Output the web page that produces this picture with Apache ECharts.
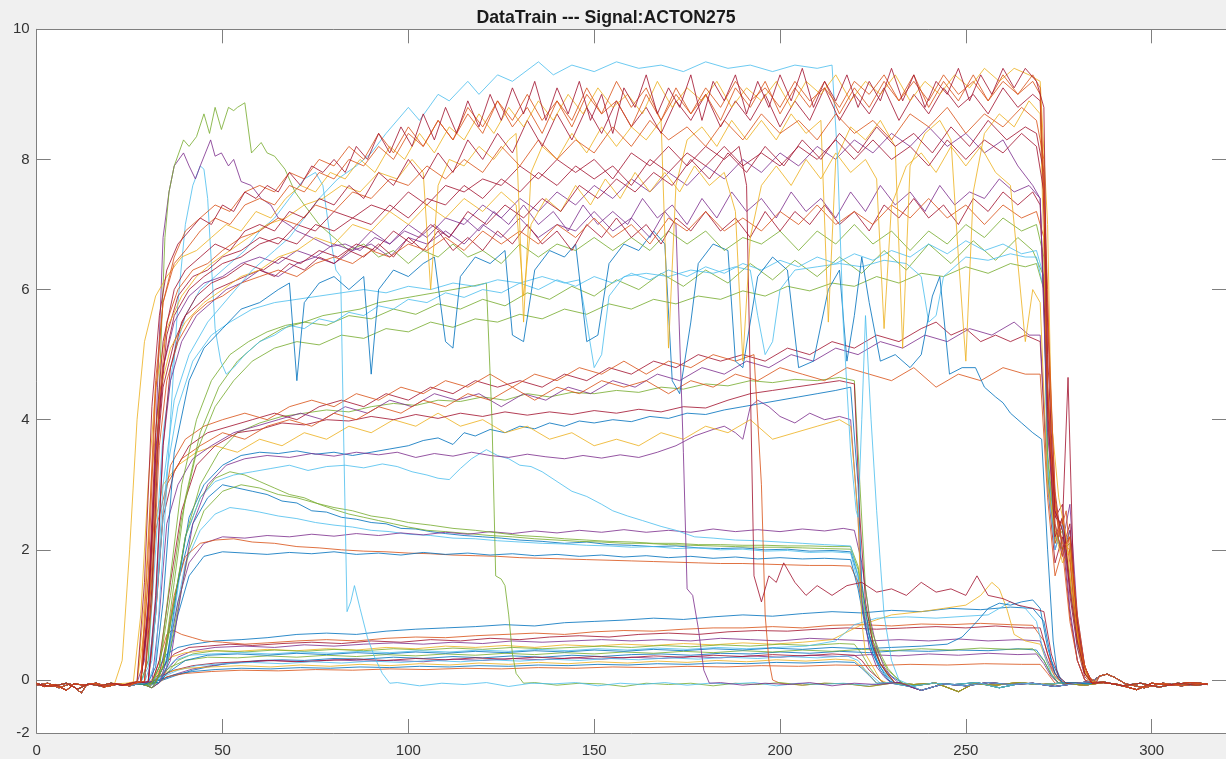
<!DOCTYPE html>
<html><head><meta charset="utf-8">
<script src="https://cdn.jsdelivr.net/npm/echarts@6/dist/echarts.min.js"></script>
<style>html,body{margin:0;padding:0;background:#f0f0f0;}#c{width:1226px;height:759px;}</style>
</head><body><div id="c"></div>
<script>
// ---------- texts & ticks ----------
const titleText = 'DataTrain --- Signal:ACTON275';
const xTicks = [0, 50, 100, 150, 200, 250, 300];
const yTicks = [0, 2, 4, 6, 8, 10];
const yBottomLabel = '-2';
const xMin = 0, xMax = 320, yMin = -0.815, yMax = 10;

// ---------- MATLAB colour order ----------
const COL = {B:'#0072BD', O:'#D95319', Y:'#EDB120', P:'#7E2F8E', G:'#77AC30', C:'#4DBEEE', R:'#A2142F'};

// ---------- shared baseline segments ----------
const baseEarly = [
 [[0,-.06],[4,-.1],[8,-.05],[11,-.14],[14,-.06],[17,-.09],[20,-.05],[23,-.08],[26,-.05],[29,-.07],[32,-.04],[35,-.06]],
 [[0,-.08],[3,-.05],[6,-.12],[9,-.06],[12,-.2],[13.5,-.07],[16,-.05],[19,-.1],[22,-.06],[25,-.09],[28,-.05],[31,-.12],[33,-.06]],
 [[0,-.05],[2,-.1],[5,-.07],[8,-.16],[10,-.06],[13,-.08],[16,-.05],[18,-.11],[21,-.06],[24,-.08],[27,-.05],[30,-.09],[34,-.05]]
];
const baseLate = [
 [[85,-.05],[91,-.08],[97,-.04],[103,-.09],[109,-.05],[115,-.07],[121,-.04],[127,-.1],[133,-.05],[139,-.06],[145,-.04],[151,-.09],[157,-.05],[163,-.07],[169,-.04],[175,-.08],[181,-.05],[187,-.06],[193,-.04],[199,-.09],[205,-.05],[211,-.07],[217,-.05],[223,-.08],[229,-.04],[235,-.1],[241,-.05],[247,-.07],[253,-.04],[259,-.12],[265,-.05],[271,-.07],[277,-.04],[283,-.06],[287,-.03],[292,-.09],[297,-.05],[302,-.11],[307,-.05],[312,-.08],[315,-.06]],
 [[88,-.07],[94,-.04],[100,-.1],[106,-.05],[112,-.08],[118,-.05],[124,-.06],[130,-.11],[136,-.05],[142,-.08],[148,-.04],[154,-.07],[160,-.05],[166,-.12],[172,-.05],[178,-.07],[184,-.04],[190,-.08],[196,-.05],[202,-.07],[208,-.04],[214,-.09],[220,-.05],[226,-.07],[232,-.04],[238,-.16],[244,-.06],[250,-.09],[256,-.04],[262,-.07],[268,-.05],[274,-.1],[280,-.05],[284,-.02],[286,.06],[288,.09],[290,.04],[293,-.06],[298,-.12],[303,-.05],[308,-.09],[313,-.05],[315,-.07]],
 [[86,-.06],[92,-.09],[98,-.05],[104,-.07],[110,-.04],[116,-.1],[122,-.05],[128,-.07],[134,-.04],[140,-.08],[146,-.05],[152,-.06],[158,-.1],[164,-.05],[170,-.07],[176,-.05],[182,-.09],[188,-.05],[194,-.07],[200,-.04],[206,-.08],[212,-.05],[218,-.06],[224,-.1],[230,-.05],[236,-.07],[242,-.05],[248,-.18],[252,-.06],[258,-.08],[264,-.04],[270,-.07],[276,-.05],[282,-.08],[287,-.04],[291,-.07],[296,-.15],[300,-.05],[305,-.08],[310,-.04],[315,-.06]]
];

// ---------- individual signals: flat x,y lists ----------
// low lines
const lo1 = [31,-.03,33,.2,35,.4,38,.5,42,.55,48,.6,55,.62,62,.65,70,.7,78,.72,86,.7,94,.75,102,.78,110,.8,118,.82,126,.85,134,.83,142,.88,150,.9,158,.92,166,.95,174,.93,182,.97,190,1.0,198,.98,206,1.02,214,1.05,222,1.03,230,1.07,238,1.05,246,1.1,254,1.08,262,1.12,268,1.1,271,.9,273,.3,275,.05,277,-.05];
const lo2 = [31,-.04,33,.3,35,.7,36.5,.77,39,.7,42,.65,45,.6,50,.58,56,.55,62,.57,70,.6,78,.62,86,.6,94,.64,102,.66,110,.65,118,.68,126,.7,134,.72,142,.7,150,.74,158,.76,166,.75,174,.78,182,.8,190,.8,198,.82,206,.8,214,.84,222,.85,230,.83,238,.86,246,.85,254,.87,262,.85,268,.84,271,.6,273,.2,275,0,277,-.05];
const lo3 = [32,-.04,34,.2,37,.4,41,.5,46,.52,52,.55,58,.53,66,.56,74,.58,82,.56,90,.6,98,.58,106,.62,114,.6,122,.64,130,.62,138,.66,146,.68,154,.66,162,.7,170,.72,178,.7,186,.74,194,.76,202,.75,210,.78,218,.8,226,.78,234,.8,242,.82,250,.8,258,.83,266,.8,270,.8,272,.4,274,.1,276,-.05];
const lo4 = [33,-.04,35,.15,38,.35,42,.45,48,.5,56,.52,64,.5,72,.54,80,.52,88,.55,96,.57,104,.55,112,.58,120,.56,128,.6,136,.58,144,.6,152,.62,160,.6,168,.62,176,.6,184,.64,192,.62,200,.6,208,.64,216,.62,224,.6,232,.62,240,.6,248,.63,256,.6,264,.62,270,.6,272,.3,274,.05,276,-.05];
const lo5 = [31,-.04,33,.15,36,.35,40,.42,46,.45,54,.44,62,.47,70,.45,78,.48,86,.46,94,.5,102,.48,110,.52,118,.5,126,.53,134,.5,142,.54,150,.52,158,.55,166,.53,174,.56,182,.54,190,.57,198,.55,206,.58,214,.62,222,.85,230,1.0,238,1.05,244,1.1,250,1.15,254,1.3,257,1.5,259,1.4,261,1.1,263,.7,266,.6,270,.55,272,.25,274,.05,276,-.05];
const lo6 = [33,-.04,35,.1,38,.3,42,.4,48,.45,56,.43,64,.46,72,.44,80,.47,88,.45,96,.48,104,.46,112,.49,120,.47,128,.5,136,.48,144,.5,152,.52,160,.5,168,.53,176,.51,184,.54,192,.52,200,.55,208,.53,216,.56,220,.55,222,.4,224,.2,226,.05,228,-.05];
const lo7 = [32,-.04,34,.1,37,.3,41,.38,47,.4,55,.42,63,.4,71,.43,79,.41,87,.44,95,.42,103,.45,111,.43,119,.46,127,.44,135,.47,143,.45,151,.48,159,.46,167,.49,175,.47,183,.5,191,.48,199,.5,207,.52,215,.6,220,.85,226,.95,234,.97,242,.95,250,.98,256,1.0,262,1.2,266,1.1,269,.9,271,.4,273,.1,275,-.05];
const lo8 = [30,-.03,34,0,38,.08,42,.15,46,.2,50,.24,55,.27,60,.3,66,.31,72,.3,80,.33,88,.32,96,.35,104,.33,112,.36,120,.34,128,.37,136,.35,144,.38,152,.36,160,.39,168,.4,176,.38,184,.41,192,.4,200,.43,208,.41,216,.44,224,.42,232,.45,240,.44,248,.46,256,.45,264,.48,269,.46,271,.3,273,.08,275,-.05];
const lo9 = [30,-.03,34,.02,38,.1,42,.17,47,.22,52,.26,58,.28,64,.3,72,.28,80,.31,88,.29,96,.3,104,.28,112,.32,120,.3,128,.33,136,.31,144,.34,152,.32,160,.35,168,.33,176,.36,184,.34,192,.37,200,.35,208,.38,216,.36,224,.39,232,.37,240,.4,248,.38,256,.41,264,.39,269,.4,271,.25,273,.05,275,-.05];
const lo10 = [31,-.04,33,.05,37,.15,42,.22,48,.26,55,.28,62,.3,70,.28,78,.3,86,.32,94,.3,102,.33,110,.31,118,.34,126,.32,134,.35,142,.33,150,.36,158,.34,166,.37,174,.35,182,.38,190,.36,198,.39,206,.37,214,.4,220,.38,222,.3,224,.15,226,.05,228,-.05];
const lo11 = [32,-.04,34,.05,38,.15,43,.22,50,.25,58,.27,66,.25,74,.28,82,.26,90,.29,98,.27,106,.3,114,.28,122,.31,130,.29,138,.32,146,.3,154,.33,162,.31,170,.34,178,.32,186,.35,194,.33,202,.36,210,.34,218,.37,221,.3,223,.15,225,.05,227,-.05];
const lo12 = [30,-.04,32,.05,35,.12,40,.18,47,.2,55,.22,63,.2,71,.23,79,.21,87,.24,95,.22,103,.25,111,.23,119,.26,127,.24,135,.27,143,.25,151,.28,159,.26,167,.29,175,.27,183,.3,191,.28,199,.31,207,.29,215,.32,220,.3,222,.2,224,.08,226,-.05];
const lo13 = [31,-.04,33,.05,36,.2,40,.3,46,.35,54,.34,62,.37,70,.35,78,.38,86,.36,94,.39,102,.37,110,.4,118,.38,126,.41,134,.39,142,.42,150,.4,158,.43,166,.41,174,.44,182,.42,190,.45,198,.43,206,.46,214,.44,222,.47,230,.45,238,.48,246,.46,254,.49,262,.47,268,.48,271,.3,273,.08,275,-.05];
const lo14 = [31,-.05,33,0,37,.08,42,.13,48,.16,55,.18,63,.17,71,.19,79,.18,87,.2,95,.19,103,.21,111,.2,119,.22,127,.21,135,.23,143,.22,151,.24,159,.23,167,.25,175,.24,183,.26,191,.25,199,.27,207,.26,215,.28,220,.27,222,.18,224,.07,226,-.05];
const lo15 = [33,-.04,35,.05,40,.1,47,.13,55,.15,65,.14,75,.16,85,.15,95,.17,105,.16,115,.18,125,.17,135,.19,145,.18,155,.2,165,.19,175,.21,185,.2,195,.22,205,.21,215,.23,225,.22,235,.24,245,.23,255,.25,265,.24,270,.24,272,.1,274,-.05];
const lo16 = [33,-.04,35,.1,40,.3,46,.38,54,.4,62,.38,70,.41,78,.39,86,.42,94,.4,102,.43,110,.41,118,.44,126,.42,134,.45,142,.43,150,.46,158,.44,166,.47,174,.45,182,.48,190,.46,198,.49,206,.47,214,.5,222,.48,230,.5,238,.52,245,.55,249,.66,253,.9,256,1.1,259,1.18,262,1.15,265,1.2,268,1.23,270,1.1,272,.5,274,.1,276,-.05];

// ~2 bundle
const b2a = [31,-.04,33,.1,35,.6,38,1.5,42,2.4,46,2.8,50,3.0,54,2.95,58,2.9,62,2.85,66,2.75,70,2.72,74,2.6,78,2.58,82,2.5,86,2.47,90,2.42,94,2.4,98,2.33,102,2.32,106,2.28,110,2.25,115,2.22,120,2.2,125,2.18,130,2.15,136,2.13,142,2.1,148,2.12,154,2.08,160,2.07,166,2.05,172,2.06,178,2.03,184,2.02,190,2.03,196,2.0,202,2.01,208,1.98,214,1.99,219,1.97,221,1.6,223,.9,225,.5,227,.25,229,.1,231,.02,233,-.05];
const g2 = [32,-.04,34,.2,37,1.2,40,2.2,44,2.8,48,3.1,52,3.2,56,3.15,60,3.05,64,2.95,68,2.85,72,2.8,76,2.7,80,2.62,84,2.55,88,2.5,92,2.45,96,2.4,100,2.35,105,2.3,110,2.28,116,2.25,122,2.22,128,2.2,134,2.17,140,2.15,146,2.13,152,2.12,158,2.1,164,2.1,170,2.08,176,2.07,182,2.06,188,2.05,194,2.04,200,2.04,206,2.03,212,2.02,219,2.01,221,1.7,223,1.0,225,.6,227,.35,229,.15,231,.05,233,-.05];
const c2 = [32,-.04,34,.1,37,.9,40,1.8,44,2.3,48,2.55,52,2.65,56,2.62,60,2.58,65,2.52,70,2.48,75,2.42,80,2.38,85,2.35,90,2.3,95,2.28,100,2.24,106,2.22,112,2.18,118,2.17,124,2.14,130,2.12,136,2.1,142,2.09,148,2.07,154,2.06,160,2.04,166,2.05,172,2.02,178,2.03,184,2.0,190,2.01,196,1.98,202,1.99,208,1.96,214,1.97,219,1.95,221,1.5,223,.8,225,.4,227,.2,229,.05,231,-.05];
const p2 = [33,-.04,35,.3,38,1.2,41,1.8,45,2.1,50,2.2,56,2.18,62,2.22,68,2.2,74,2.24,80,2.21,86,2.25,92,2.22,98,2.26,104,2.23,110,2.27,116,2.24,122,2.28,128,2.25,134,2.29,140,2.26,146,2.3,152,2.27,158,2.31,164,2.27,170,2.3,176,2.27,182,2.32,188,2.28,194,2.31,200,2.28,206,2.32,212,2.29,217,2.33,220,2.3,222,1.8,224,1.0,226,.5,228,.2,230,.05,232,-.05];
const o2 = [32,-.04,34,.3,37,1.3,40,1.9,44,2.1,48,2.15,53,2.17,58,2.12,64,2.1,70,2.05,76,2.03,82,2.0,88,1.98,94,1.97,100,1.95,106,1.94,112,1.92,118,1.91,124,1.9,130,1.88,136,1.87,142,1.86,148,1.85,154,1.84,160,1.83,166,1.82,172,1.81,178,1.8,184,1.79,190,1.79,196,1.78,202,1.77,208,1.76,214,1.76,219,1.75,221,1.5,223,.9,225,.5,227,.25,229,.1,231,-.05];
const b2b = [33,-.04,35,.2,38,1.0,41,1.6,45,1.9,50,1.97,56,1.95,62,1.93,68,1.96,74,1.94,80,1.97,86,1.93,92,1.95,98,1.92,104,1.96,110,1.93,116,1.95,122,1.92,128,1.94,134,1.91,140,1.93,146,1.9,152,1.92,158,1.89,164,1.91,170,1.88,176,1.9,182,1.87,188,1.89,194,1.86,200,1.88,206,1.86,212,1.87,219,1.85,221,1.4,223,.8,225,.4,227,.15,229,0,231,-.05];
const g3 = [33,-.04,35,.2,38,1.1,41,2.0,45,2.6,50,2.9,55,3.0,60,2.95,65,2.85,70,2.8,75,2.72,80,2.65,85,2.6,90,2.52,95,2.48,100,2.42,106,2.38,112,2.33,118,2.3,124,2.26,130,2.22,136,2.2,142,2.17,148,2.15,154,2.13,160,2.12,166,2.1,172,2.1,178,2.08,184,2.08,190,2.07,196,2.07,202,2.06,208,2.06,214,2.05,219,2.05,221,1.75,223,1.1,225,.7,227,.4,229,.18,231,.05,233,-.05];
const cDec = [33,-.04,35,.2,37,1.0,40,2.2,44,2.8,48,3.05,53,3.15,58,3.2,63,3.25,68,3.3,73,3.22,78,3.28,83,3.3,88,3.26,93,3.32,97,3.28,101,3.2,105,3.15,108,3.1,111,3.08,114,3.25,117,3.4,121,3.54,124,3.45,127,3.4,130,3.3,133,3.28,136,3.2,140,3.05,144,2.9,148,2.82,152,2.7,155,2.6,159,2.52,163,2.45,168,2.36,172,2.3,177,2.2,182,2.18,188,2.15,194,2.14,200,2.12,206,2.1,212,2.08,219,2.06,221,1.6,223,.9,225,.45,227,.2,229,.05,231,-.05];

// 3.5 - 5.5 band
const b35 = [32,-.04,35,.3,38,1.5,41,2.5,45,3.0,50,3.3,55,3.45,60,3.5,65,3.48,70,3.52,75,3.47,80,3.5,85,3.45,90,3.5,95,3.55,100,3.6,104,3.68,108,3.72,112,3.62,115,3.8,118,3.75,122,3.85,126,3.8,130,3.9,134,3.86,138,3.95,142,3.9,146,3.98,150,3.95,155,4.0,160,3.97,165,4.05,170,4.02,175,4.1,180,4.08,185,4.15,190,4.2,195,4.25,200,4.3,205,4.35,210,4.4,215,4.45,219,4.5,221,3.0,222,1.5,224,.7,226,.3,228,.1,230,-.05];
const p35 = [33,-.04,36,.3,39,1.4,42,2.4,46,3.0,51,3.3,56,3.4,62,3.45,68,3.42,74,3.48,80,3.44,86,3.5,92,3.46,97,3.5,102,3.42,107,3.48,112,3.44,117,3.5,122,3.45,127,3.42,132,3.47,137,3.43,142,3.4,147,3.45,152,3.41,157,3.46,162,3.42,167,3.5,172,3.6,177,3.75,182,3.85,185,3.9,188,3.8,190,3.7,192,4.2,194,4.3,197,4.2,200,4.05,204,3.95,208,4.1,212,4.0,216,4.05,219,4.0,221,2.5,222,1.2,224,.5,226,.2,228,.05,230,-.05];
const y3 = [25,-.05,27,-.03,29,.8,31,2.2,34,3.0,38,3.3,43,3.5,48,3.6,54,3.5,60,3.7,66,3.6,72,3.8,78,3.7,84,3.9,90,3.8,96,4.0,102,3.9,108,4.1,114,3.9,120,4.0,126,3.8,132,3.9,138,3.7,144,3.8,150,3.6,156,3.7,162,3.6,168,3.8,174,3.7,180,3.9,186,3.8,192,4.0,198,3.7,204,3.8,210,3.9,216,4.0,219,3.9,221,2.5,222,.9,223,.4,225,.2,227,0,229,-.05];
const g5 = [32,-.04,34,.2,37,1.2,40,2.2,44,3.0,49,3.5,54,3.8,60,3.95,66,4.05,72,4.1,78,4.15,84,4.12,90,4.2,96,4.25,102,4.22,108,4.3,114,4.28,120,4.35,126,4.3,132,4.4,138,4.35,144,4.42,150,4.4,156,4.45,162,4.42,168,4.5,174,4.47,180,4.55,186,4.52,192,4.6,198,4.57,204,4.62,210,4.6,216,4.65,220,4.6,221.5,3.0,223,1.4,225,.6,227,.25,229,.08,231,-.05];
const r4 = [31,-.04,33,.3,36,1.5,39,2.6,43,3.3,48,3.6,54,3.8,60,3.85,66,3.95,72,3.92,78,4.0,84,3.98,90,4.05,96,4.0,102,4.08,108,4.02,114,4.1,120,4.05,126,4.12,132,4.07,138,4.12,144,4.08,150,4.14,156,4.1,162,4.16,168,4.12,174,4.2,180,4.18,186,4.3,192,4.4,198,4.45,204,4.5,210,4.55,216,4.6,220,4.55,221.5,2.5,223,1.2,225,.55,227,.25,229,.08,231,-.05];
const r5a = [28,-.04,30,-.03,32,1.0,34,2.5,37,3.2,41,3.6,46,3.8,52,3.9,58,4.0,64,4.1,70,4.0,76,4.2,82,4.3,88,4.2,94,4.4,100,4.3,106,4.5,112,4.4,118,4.6,124,4.5,130,4.6,136,4.5,142,4.7,148,4.6,154,4.8,160,4.7,166,4.9,172,4.8,178,5.0,184,4.9,190,5.0,196,4.9,202,5.1,208,5.0,214,5.2,220,5.1,226,5.3,232,5.2,238,5.4,242,5.5,246,5.3,250,5.4,254,5.2,258,5.3,262,5.2,266,5.3,270,5.2,272,3.0,274,1.8,276,2.2,278,1.0,280,.3,282,0,284,-.05];
const p5b = [29,-.04,31,-.03,33,1.0,35,2.4,38,3.0,42,3.4,47,3.6,53,3.8,59,3.9,65,4.0,71,4.1,77,4.0,83,4.2,89,4.1,95,4.3,101,4.2,107,4.4,113,4.3,119,4.4,125,4.2,131,4.4,137,4.3,143,4.5,149,4.4,155,4.6,161,4.5,167,4.7,173,4.6,179,4.8,185,4.7,191,4.9,197,4.8,203,5.0,209,4.9,215,5.1,221,5.0,227,5.2,233,5.1,239,5.3,245,5.2,251,5.4,257,5.3,263,5.5,267,5.3,270,5.3,272,3.2,274,2.0,276,2.4,278,1.1,280,.3,282,0,284,-.05];
const o47 = [26,-.05,28,-.03,30,.9,32,2.3,35,3.0,39,3.4,44,3.6,50,3.8,56,3.7,62,3.9,68,4.0,74,3.9,80,4.1,86,4.0,92,4.2,98,4.1,104,4.3,110,4.2,116,4.4,122,4.3,128,4.5,134,4.3,140,4.5,146,4.4,152,4.6,158,4.5,164,4.6,170,4.4,176,4.6,182,4.5,188,4.7,194,4.6,200,4.8,206,4.7,212,4.6,218,4.8,224,4.7,230,4.6,236,4.8,242,4.5,248,4.7,254,4.6,260,4.8,266,4.7,270,4.7,272,2.8,274,1.6,276,2.0,278,.9,280,.3,282,0,284,-.05];
const d197 = [29,-.04,30,-.03,32,1.0,34,2.6,36,3.3,40,3.7,45,3.9,50,4.0,56,4.1,62,4.0,68,4.2,74,4.3,80,4.2,86,4.4,92,4.3,98,4.5,104,4.4,110,4.6,116,4.5,122,4.7,128,4.5,134,4.7,140,4.6,146,4.8,152,4.7,158,4.9,164,4.7,170,4.9,176,4.8,182,5.0,188,4.9,193,5.0,195,3.0,196,1.0,197,.3,198,0,200,-.05];

// 5 - 7 band
const g4 = [31,-.04,33,.2,36,1.3,39,2.5,43,3.5,48,4.2,53,4.6,58,4.9,64,5.1,70,5.2,76,5.15,82,5.3,88,5.25,94,5.4,100,5.35,106,5.5,112,5.42,118,5.55,124,5.5,130,5.62,136,5.55,142,5.7,148,5.62,154,5.78,160,5.7,166,5.85,172,5.78,178,5.9,184,5.85,190,5.98,196,5.9,202,6.05,208,5.98,214,6.1,220,6.05,226,6.2,232,6.1,238,6.25,244,6.2,250,6.35,256,6.25,262,6.4,266,6.35,269,6.4,271,6.0,272,3.4,274,2.2,276,2.0,278,2.1,280,.7,282,.1,284,-.05];
const g6 = [32,-.04,34,.2,37,1.5,40,2.8,44,3.8,49,4.5,54,4.9,60,5.2,66,5.4,72,5.5,78,5.45,84,5.6,90,5.55,96,5.7,102,5.62,108,5.78,114,5.7,120,5.85,126,5.75,132,5.95,138,5.85,144,6.05,150,5.9,156,6.15,162,6.0,168,6.25,174,6.05,180,6.3,186,6.1,192,6.4,198,6.15,204,6.45,210,6.2,216,6.5,222,6.25,228,6.6,234,6.3,240,6.7,246,6.4,252,6.75,258,6.45,264,6.8,268,6.6,271,6.2,272,3.2,274,2.1,276,2.3,278,1.6,280,.6,282,.1,284,-.05];
const gDrop = [31,-.04,33,.2,36,1.6,39,3.0,43,4.0,47,4.6,52,5.0,57,5.2,62,5.35,67,5.45,72,5.5,77,5.6,82,5.65,87,5.7,92,5.8,97,5.85,102,5.9,107,5.95,112,6.0,117,6.05,121,6.1,122.5,4.0,123.5,1.6,125,1.55,126,1.45,127,1.0,128,.4,129,.1,131,-.05];
const cDrop = [28,-.04,30,.3,32,2.0,34,3.8,37,5.0,40,5.6,44,6.0,48,6.2,52,6.4,56,6.6,60,6.9,64,7.1,68,7.4,72,7.7,75,7.8,77,7.6,79,6.8,80.5,6.3,81.8,6.2,82.5,4.0,83.5,1.05,84.5,1.2,85.5,1.45,87,1.1,89,.65,91,.34,93,.1,95,-.05];
const cPeak = [30,-.04,32,.3,34,2.0,36,4.0,38,5.8,40,7.0,42,7.6,44,7.9,45,7.85,46,7.4,47,6.4,48,5.4,49.5,4.9,51,4.7,53,4.8,56,5.0,60,5.2,64,5.3,68,5.45,72,5.4,76,5.55,80,5.5,84,5.65,88,5.6,92,5.75,96,5.7,100,5.85,105,5.8,110,5.95,115,5.88,120,6.0,125,5.95,130,6.1,135,6.0,140,6.15,145,6.05,150,6.2,155,6.1,160,6.25,165,6.15,170,6.3,175,6.2,180,6.35,185,6.25,190,6.4,195,6.3,200,6.45,205,6.35,210,6.5,215,6.4,220,6.55,225,6.45,230,6.6,235,6.5,240,6.7,245,6.55,250,6.75,255,6.6,260,6.7,265,6.55,269,6.6,271,6.2,272,3.3,274,2.2,276,2.0,278,2.3,280,.8,282,.15,284,-.05];
const cDip = [29,-.04,31,.3,33,1.8,35,3.2,38,4.2,42,4.9,47,5.3,52,5.5,58,5.7,64,5.8,70,5.85,76,5.9,82,5.95,88,6.0,94,5.95,100,6.05,106,6.0,112,6.1,118,6.05,124,6.15,130,6.1,136,6.2,142,6.1,146,6.15,148,5.5,150,4.8,152,5.0,154,5.9,158,6.2,164,6.25,170,6.2,176,6.3,182,6.25,188,6.35,192,6.3,194,5.6,196,5.0,198,5.2,200,6.0,204,6.3,210,6.35,216,6.4,222,6.35,228,6.45,234,6.4,238,6.2,240,5.5,242,5.6,244,6.2,250,6.5,256,6.45,262,6.55,266,6.5,269,6.5,271,6.0,272,3.0,274,2.0,276,2.4,278,1.4,280,.5,282,.1,284,-.05];
const bDesc = [30,-.04,32,.2,34,1.2,37,3.5,41,4.6,45,5.1,50,5.4,55,5.7,60,5.8,65,6.0,68,6.1,70,4.6,72,5.8,76,6.1,80,6.2,84,6.0,88,6.2,90,4.7,92,6.0,96,6.3,100,6.2,104,6.4,107,6.5,110,5.2,112,5.1,114,6.2,118,6.5,122,6.4,126,6.6,128,5.3,131,5.2,134,6.3,138,6.6,142,6.5,145,6.7,148,5.2,151,5.3,154,6.4,158,6.7,162,6.6,166,6.9,169,6.7,171,4.6,173,4.4,176,5.5,178,6.4,182,6.7,186,6.6,188,4.9,190,4.8,194,6.2,198,6.5,202,6.3,205,4.8,209,4.9,213,6.0,216,6.3,218,4.9,220,5.6,222,6.5,224,5.8,227,4.9,231,5.0,235,4.8,238,5.0,241,5.9,243,6.2,245.6,4.7,249,4.8,252.6,4.8,255,4.5,258,4.35,260,4.26,262,4.1,265,3.95,268,3.8,270.4,3.7,272,2.0,273.5,.6,274.5,.15,276,-.05];
const m4 = [28,-.04,30,-.03,32,1.3,34,3.6,36,4.6,39,5.2,43,5.6,47,5.8,51,6.0,55,6.1,60,6.3,65,6.2,70,6.4,75,6.5,80,6.4,85,6.6,90,6.7,95,6.5,100,6.8,105,6.7,110,6.9,115,6.7,120,7.0,125,6.8,130,7.1,135,6.8,140,7.0,145,6.9,150,7.2,155,6.9,160,7.1,165,6.8,169,7.2,172,7.0,174,3.5,175,1.4,176.5,1.3,178,.8,179.5,.15,181,-.05];

// 7 - 9.5 band
const m1 = [27,-.04,29,.3,31,2.0,32.5,4.5,34,6.8,35.6,7.5,37,7.9,39.5,8.1,41,7.9,42.7,7.7,44,7.9,46.8,8.3,48,8.05,49.7,8.1,51.6,7.9,53,8.0,55,7.66,57.7,7.6,60.4,7.4,63,7.3,65,7.1,68.5,6.97,70,6.9,74,6.8,79,6.66,83,6.7,87,6.6,91,6.8,95,6.7,99,6.9,103,6.8,107,7.0,111,6.8,115,7.1,119,6.9,123,7.2,127,7.0,131,7.3,135,7.0,139,7.2,143,6.9,147,7.3,151,7.0,155,7.2,159,7.0,163,7.4,167,7.1,171,7.3,175,7.0,179,7.4,183,7.1,187,7.5,191,7.2,195,7.4,199,7.1,203,7.5,207,7.2,211,7.4,215,7.1,219,7.5,223,7.2,227,7.6,231,7.3,235,7.5,239,7.2,243,7.6,247,7.3,251,7.5,255,7.4,259,7.7,263,7.5,267,7.6,270,7.4,272,4.0,274,2.6,276,2.1,278,2.7,280,1.0,282,.2,284,-.05];
const g1 = [28,-.04,30,.3,31.5,2.0,33,4.5,34.5,6.8,35.6,7.5,37,7.9,39.5,8.3,41,8.2,43,8.35,45,8.7,46.5,8.4,48,8.8,49.7,8.46,51.6,8.8,53,8.75,54,8.8,56,8.87,57.8,8.1,60.4,8.26,62,8.1,64,8.05,66.8,7.85,69.5,7.5,72,7.3,76,7.0,80,6.8,84,6.6,88,6.7,92,6.5,96,6.6,100,6.4,104,6.6,108,6.5,112,6.7,116,6.5,120,6.6,125,6.4,130,6.7,135,6.5,140,6.7,145,6.6,150,6.8,155,6.6,160,6.8,165,6.6,170,6.9,175,6.7,180,6.9,185,6.6,190,6.8,195,6.7,200,6.9,205,6.6,210,6.9,215,6.7,220,7.0,225,6.7,230,6.9,235,6.6,240,6.9,245,6.7,250,7.0,255,6.8,260,7.1,265,6.9,269,7.0,271,6.5,272,3.5,274,2.3,276,2.0,278,2.2,280,.8,282,.1,284,-.04];
const m2 = [26,-.06,28,-.03,30,1.0,32,3.2,34,4.5,37,5.2,40,5.6,44,5.8,48,6.0,52,6.1,56,6.2,60,6.3,64,6.2,68,6.4,72,6.3,76,6.5,80,6.4,84,6.6,88,6.5,92,6.7,96,6.5,100,6.8,104,6.6,108,6.9,112,6.6,116,6.8,120,6.6,124,6.9,128,6.7,132,7.0,136,6.7,140,6.9,144,6.6,148,7.0,152,6.8,156,7.1,160,6.8,164,7.0,168,6.7,172,7.1,176,6.9,180,7.2,184,6.9,188,7.1,192,6.8,196,7.2,200,6.9,204,7.2,208,7.0,212,7.3,216,7.0,220,7.2,224,6.9,228,7.3,232,7.1,236,7.4,240,7.1,244,7.3,248,7.0,252,7.4,256,7.2,260,7.5,264,7.3,268,7.5,270,7.3,272,4.5,274,2.5,276,2.4,277.5,4.65,279,1.5,281,.4,283,.05,285,-.05];
const m3 = [27,-.04,29,-.02,31,1.2,33,3.6,35,4.6,38,5.2,42,5.6,46,5.8,50,5.9,55,6.1,60,6.2,65,6.3,70,6.2,75,6.4,80,6.5,85,6.4,90,6.6,95,6.5,100,6.7,105,6.6,110,6.8,115,6.6,120,6.9,125,6.7,130,6.9,135,6.7,140,7.0,145,6.8,150,7.1,155,6.8,160,7.0,165,6.7,170,7.1,175,6.9,180,7.2,185,6.9,190,7.1,195,6.9,200,7.2,205,7.0,210,7.3,215,7.0,220,7.2,225,7.0,230,7.3,235,7.1,240,7.4,245,7.1,250,7.3,255,7.0,260,7.3,265,7.1,269,7.2,271,6.8,272,4.0,274,2.1,276,2.5,278,1.8,280,.7,282,.1,284,-.05];
const n1 = [26,-.05,28,-.02,30,1.1,32,3.5,34,4.8,37,5.5,41,5.9,45,6.1,50,6.2,55,6.4,60,6.5,65,6.4,70,6.6,75,6.5,80,6.7,85,6.6,90,6.9,95,6.7,100,7.0,105,6.8,110,7.1,115,7.0,120,7.3,125,7.1,130,7.4,135,7.2,140,7.5,145,7.3,150,7.6,155,7.4,160,7.7,165,7.5,170,7.8,175,7.6,180,7.9,185,7.7,190,8.0,195,7.8,200,8.1,205,7.9,210,8.2,215,8.0,220,8.3,225,8.1,230,8.4,235,8.2,240,8.5,245,8.2,250,8.4,255,8.1,260,8.3,264,7.9,268,7.6,270,7.4,272,3.8,274,2.4,276,1.9,278,2.3,280,.9,282,.2,284,-.04];
const d192 = [27,-.04,29,-.03,31,1.4,33,4.0,35,5.3,38,5.9,42,6.2,46,6.3,50,6.5,55,6.6,60,6.8,65,6.7,70,7.0,75,6.9,80,7.2,85,7.1,90,7.3,95,7.2,100,7.5,105,7.3,110,7.6,115,7.5,120,7.7,125,7.6,130,7.9,135,7.7,140,8.0,145,7.8,150,8.0,155,7.7,160,8.1,165,7.9,170,8.2,175,7.9,180,8.2,185,8.0,189,8.2,191,7.6,193,1.6,195,1.2,197,1.6,199,1.5,201,1.8,204,1.5,207,1.3,210,1.45,214,1.3,218,1.45,222,1.5,226,1.35,230,1.4,234,1.3,238,1.5,242,1.35,246,1.4,250,1.3,253,1.6,256,1.3,260,1.25,264,1.15,268,1.1,271,1.05,273,.4,275,.05,277,-.05];
const y1 = [24,-.05,26,-.03,28,1.0,30,3.0,32,4.5,35,5.4,39,5.9,43,6.2,47,6.4,52,6.6,57,6.8,62,7.0,67,7.1,72,7.3,77,7.4,82,7.6,87,7.5,92,7.8,97,7.7,101,8.0,104,7.8,106,6.0,108,7.6,111,8.0,115,7.9,119,8.2,123,8.0,127,8.3,129,8.4,131,5.5,133,7.8,136,8.2,140,8.0,144,8.4,148,8.1,152,8.5,156,8.2,160,8.5,164,8.3,168,8.6,170,5.1,172,7.6,175,8.3,179,8.5,183,8.2,187,8.6,191,8.3,195,8.6,199,8.3,203,8.7,207,8.4,211,8.6,213,5.5,215,8.0,219,8.5,223,8.3,227,8.6,231,8.2,233,5.1,235,7.9,239,8.4,243,8.6,246,8.3,248,6.5,250,4.9,252,7.5,255,8.4,259,8.7,263,8.5,267,8.9,270,8.7,272,4.5,274,2.7,276,2.1,278,2.0,280,.7,282,.1,284,-.05];
const y2 = [25,-.05,27,-.03,29,1.2,31,3.2,33,4.4,36,5.1,40,5.5,45,5.8,50,6.0,55,6.2,60,6.3,65,6.5,70,6.6,75,6.8,80,6.7,85,7.0,90,6.9,95,7.2,100,7.0,105,7.3,110,7.1,115,7.4,120,7.2,125,7.5,129,7.3,131,5.9,133,7.0,137,7.4,141,7.2,145,7.6,149,7.3,153,7.7,157,7.4,161,7.8,165,7.5,169,7.8,173,7.5,177,7.9,181,7.6,185,7.8,188,7.2,190,4.9,192,6.8,195,7.6,199,7.9,203,7.6,207,8.0,211,7.7,215,8.1,219,7.8,223,8.0,226,7.7,228,5.4,230,7.3,234,7.9,238,8.1,242,7.8,246,8.2,250,7.9,254,8.2,258,7.8,262,7.6,264,6.4,266,5.2,268,6.0,270,5.8,272,3.0,274,2.3,276,1.8,278,2.0,280,.6,282,.1,284,-.05];
const cTop = [28,-.04,30,.2,32,1.0,34,3.0,37,4.3,41,5.0,46,5.5,52,5.9,58,6.3,64,6.6,68,6.8,72,7.1,76,7.4,81,7.7,86,7.9,90,8.1,94,8.4,100,8.8,103,8.6,108,9.0,111,8.9,116,9.2,119,9.0,124,9.3,128,9.2,135,9.5,139,9.3,144,9.45,150,9.35,156,9.5,162,9.4,168,9.45,174,9.35,180,9.5,186,9.4,192,9.45,198,9.35,204,9.45,210,9.4,214,9.45,215.5,8.0,217,5.5,219,3.5,220.5,2.6,221,2.5,222,4.0,223,5.6,224.5,4.0,226,2.6,228,1.0,230,.3,232,0,234,-.05];
const t6 = [26,-.05,28,-.02,30,1.0,32,3.4,34,4.8,37,5.6,41,6.0,45,6.2,50,6.4,55,6.5,60,6.7,65,6.8,70,6.7,75,7.0,80,6.9,85,7.1,90,7.0,95,7.3,100,7.1,105,7.4,110,7.3,115,7.6,120,7.4,125,7.7,130,7.5,135,7.8,140,7.6,145,7.9,150,7.7,155,7.9,160,7.6,165,8.0,170,7.8,175,8.1,180,7.9,185,8.2,190,7.9,195,8.1,200,7.9,205,8.2,210,8.0,215,8.3,220,8.0,225,8.3,230,8.0,235,8.2,240,7.9,245,8.3,250,8.0,255,8.3,260,8.1,265,8.4,269,8.2,271,7.5,272,4.2,274,2.2,276,2.5,278,1.5,280,.6,282,.1,284,-.05];
const t9 = [28,-.04,30,-.03,32,1.2,34,3.6,36,4.8,39,5.5,43,5.9,47,6.1,51,6.2,56,6.4,61,6.3,66,6.5,71,6.4,76,6.6,81,6.5,86,6.7,91,6.6,96,6.9,101,6.7,106,7.0,111,6.8,116,7.2,121,7.0,126,7.3,131,7.1,136,7.4,141,7.2,146,7.6,151,7.4,156,7.7,161,7.5,166,7.8,171,7.6,176,8.0,181,7.7,186,8.1,191,7.8,196,8.2,201,7.9,206,8.3,211,8.0,216,8.4,221,8.1,226,8.5,231,8.2,236,8.4,241,8.1,246,8.5,251,8.2,256,8.6,261,8.3,266,8.5,269,8.4,271,7.8,272,4.4,274,2.5,276,2.7,278,1.3,280,.5,282,.05,284,-.05];
const t5 = [27,-.04,29,-.02,31,1.8,33,4.3,35,5.5,38,6.0,42,6.3,46,6.4,50,6.6,55,6.8,60,6.9,65,7.1,70,7.0,75,7.3,80,7.2,85,7.5,90,7.4,95,7.7,100,7.6,105,7.9,110,7.7,115,8.0,120,7.8,125,8.2,130,7.9,135,8.3,140,8.0,145,8.3,150,8.1,155,8.5,160,8.2,165,8.6,170,8.3,175,8.5,180,8.2,185,8.6,190,8.3,195,8.7,200,8.4,205,8.6,210,8.3,215,8.7,220,8.4,225,8.6,230,8.3,235,8.7,240,8.5,245,8.8,250,8.4,255,8.7,260,8.5,265,8.8,269,8.6,271,8.0,272,4.5,274,2.4,276,1.9,278,2.2,280,.8,282,.15,284,-.04];
const t4 = [26,-.05,28,-.03,30,1.2,32,3.8,34,5.2,37,6.0,40,6.3,44,6.5,48,6.7,52,6.6,56,6.9,60,7.0,64,6.9,68,7.2,72,7.1,76,7.4,80,7.3,84,7.6,88,7.4,92,7.8,96,7.6,100,8.0,104,7.7,108,8.1,112,7.8,116,8.3,120,8.0,124,8.4,128,8.1,132,8.6,136,8.2,140,8.7,144,8.3,148,8.8,152,8.4,156,8.9,160,8.5,164,8.8,168,8.4,172,8.9,176,8.6,180,9.0,184,8.5,188,8.9,192,8.6,196,9.0,200,8.5,204,8.9,208,8.6,212,9.1,216,8.6,220,9.0,224,8.7,228,9.1,232,8.6,236,9.0,240,8.7,244,9.1,248,8.8,252,9.0,256,8.7,260,9.1,264,8.8,268,9.0,270,8.9,272,5.5,274,2.9,276,2.0,278,2.4,280,.9,282,.2,284,-.03];
const t3 = [21,-.05,23,.3,25,2.0,27,4.0,29,5.2,32,5.9,35,6.2,39,6.5,43,6.6,47,6.8,51,7.0,55,6.9,59,7.2,63,7.1,67,7.4,71,7.6,75,7.5,79,7.8,83,7.7,87,8.0,91,7.8,95,8.2,99,8.0,103,8.4,107,8.1,111,8.5,115,8.3,119,8.7,123,8.4,127,8.8,131,8.5,135,8.9,139,8.6,143,9.0,147,8.7,151,9.1,155,8.8,159,9.0,163,8.7,167,9.2,171,8.8,175,9.1,179,8.9,183,9.2,187,8.8,191,9.1,195,8.9,199,9.2,203,8.8,207,9.2,211,9.0,215,9.3,219,8.9,223,9.2,227,9.0,231,9.3,235,8.9,239,9.2,243,9.0,247,9.3,251,9.1,255,9.4,259,9.2,263,9.4,267,9.3,270,9.2,272,7.0,273,4.0,275,2.8,277,2.2,279,1.0,281,.3,283,0,285,-.04];
const t2 = [26,-.05,28,-.02,30,2.0,32,4.6,34,5.8,37,6.4,40,6.6,44,6.9,48,7.1,52,7.0,56,7.3,60,7.4,64,7.3,68,7.6,72,7.5,76,7.8,80,7.7,84,8.0,88,7.9,92,8.2,96,8.0,100,8.4,104,8.2,108,8.6,112,8.3,116,8.7,120,8.4,124,8.9,128,8.5,132,8.8,136,8.4,140,8.9,144,8.6,148,9.1,152,8.7,156,8.9,160,8.5,164,9.0,168,8.6,172,9.1,176,8.7,180,9.0,184,8.6,188,9.1,192,8.8,196,9.2,200,8.7,204,9.1,208,8.8,212,9.2,216,8.7,220,9.1,224,8.8,228,9.2,232,8.9,236,9.3,240,8.8,244,9.2,248,8.9,252,9.3,256,8.9,260,9.2,264,9.0,268,9.3,270,9.1,272,6.0,273,3.5,275,2.2,277,2.6,279,1.2,281,.4,283,.05,285,-.03];
const t8 = [26,-.05,28,-.03,30,1.6,32,4.4,34,5.8,37,6.5,40,6.9,44,7.1,48,7.3,52,7.2,56,7.5,60,7.6,64,7.5,68,7.8,72,7.7,76,8.0,80,7.9,84,8.2,88,8.0,92,8.4,96,8.1,100,8.5,104,8.2,108,8.6,112,8.3,116,8.8,120,8.5,124,8.9,128,8.6,132,9.0,136,8.6,140,8.9,144,8.5,148,9.0,152,8.7,156,9.2,160,8.8,164,9.1,168,8.6,172,9.0,176,8.7,180,9.1,184,8.8,188,9.2,192,8.9,196,9.1,200,8.8,204,9.2,208,8.9,212,9.1,216,8.8,220,9.2,224,9.0,228,9.3,232,8.9,236,9.2,240,8.9,244,9.3,248,9.0,252,9.2,256,8.9,260,9.3,264,9.0,268,9.2,270,9.0,272,5.8,274,2.8,276,2.0,278,2.2,280,1.0,282,.2,284,-.05];
const t1 = [25,-.05,27,-.02,29,1.5,31,4.2,33,5.6,35,6.3,38,6.7,41,6.9,44,7.1,47,7.0,50,7.3,53,7.2,56,7.5,59,7.4,62,7.6,65,7.5,68,7.8,71,7.6,74,7.9,77,7.8,80,8.0,83,7.8,86,8.2,89,8.0,92,8.4,95,8.1,98,8.5,101,8.2,104,8.7,107,8.3,110,8.8,113,8.4,116,8.9,119,8.5,122,9.0,125,8.6,128,9.1,131,8.7,134,9.2,137,8.6,140,9.1,143,8.7,146,9.2,149,8.6,152,9.0,155,8.4,158,9.1,161,8.8,164,9.3,167,8.7,170,9.1,173,8.8,176,9.3,179,8.6,182,9.2,185,8.9,188,9.3,191,8.7,194,9.2,197,8.8,200,9.3,203,8.9,206,9.4,209,8.8,212,9.2,215,8.9,218,9.3,221,8.8,224,9.2,227,8.9,230,9.4,233,8.9,236,9.3,239,8.8,242,9.2,245,9.0,248,9.4,251,8.9,254,9.3,257,9.0,260,9.4,263,9.1,266,9.4,269,9.2,271,8.8,272,5.0,274,2.6,276,2.3,278,1.4,280,.6,282,.1,284,-.05];

// drawing order and colours
const order = [
 ['lo1','B',lo1],['lo2','O',lo2],['lo3','R',lo3],['lo4','P',lo4],['lo5','Y',lo5],['lo6','G',lo6],['lo7','C',lo7],['lo8','B',lo8],
 ['lo9','P',lo9],['lo10','R',lo10],['lo11','C',lo11],['lo12','Y',lo12],['lo13','G',lo13],['lo14','B',lo14],['lo15','O',lo15],['lo16','B',lo16],
 ['b2a','B',b2a],['g2','G',g2],['c2','C',c2],['p2','P',p2],['o2','O',o2],['b2b','B',b2b],['g3','G',g3],['cDec','C',cDec],
 ['b35','B',b35],['p35','P',p35],['y3','Y',y3],['g5','G',g5],['r4','R',r4],['r5a','R',r5a],['p5b','P',p5b],['o47','O',o47],['d197','O',d197],
 ['g4','G',g4],['g6','G',g6],['gDrop','G',gDrop],['cDrop','C',cDrop],['cPeak','C',cPeak],['cDip','C',cDip],['bDesc','B',bDesc],['m4','P',m4],
 ['m1','P',m1],['g1','G',g1],['m2','R',m2],['m3','O',m3],['n1','P',n1],['d192','R',d192],['y1','Y',y1],['y2','Y',y2],['cTop','C',cTop],
 ['t6','R',t6],['t9','R',t9],['t5','O',t5],['t4','R',t4],['t3','Y',t3],['t2','O',t2],['t8','O',t8],['t1','R',t1]
];

function buildLine(flat, v) {
  const pts = [];
  for (let i = 0; i < flat.length; i += 2) pts.push([flat[i], flat[i+1]]);
  const first = pts[0][0], last = pts[pts.length-1][0];
  const early = baseEarly[v % 3].filter(p => p[0] < first);
  const late = baseLate[v % 3].filter(p => p[0] > last);
  return early.concat(pts, late);
}

const series = order.map((o, i) => ({
  name: o[0], type: 'line', data: buildLine(o[2], i), showSymbol: false, symbol: 'none',
  lineStyle: {width: 1, color: COL[o[1]], opacity: 0.82}, itemStyle: {color: COL[o[1]]},
  emphasis: {disabled: true}, silent: true, animation: false, clip: true
}));

const axisCol = '#7f7f7f';
const labelStyle = {color: '#333', fontSize: 15, fontFamily: 'Liberation Sans, Arial, Helvetica, sans-serif'};
const chart = echarts.init(document.getElementById('c'), null, {renderer: 'canvas'});
chart.setOption({
  backgroundColor: '#f0f0f0',
  animation: false,
  title: {text: titleText, left: 606, top: 9, padding: 0, textAlign: 'center',
    textStyle: {fontSize: 17.7, fontWeight: 'bold', color: '#1a1a1a', fontFamily: 'Liberation Sans, Arial, Helvetica, sans-serif'}},
  grid: {left: 36.7, top: 29.3, right: -9.7, bottom: 26, show: true, backgroundColor: '#ffffff', borderWidth: 0, containLabel: false},
  xAxis: [
    {type: 'value', min: xMin, max: xMax, position: 'bottom',
     axisLine: {show: true, onZero: false, lineStyle: {color: axisCol, width: 1}},
     axisTick: {show: true, inside: true, length: 14, customValues: xTicks, lineStyle: {color: axisCol}},
     axisLabel: Object.assign({show: true, margin: 10, customValues: xTicks}, labelStyle),
     splitLine: {show: false}},
    {type: 'value', min: xMin, max: xMax, position: 'top',
     axisLine: {show: true, onZero: false, lineStyle: {color: axisCol, width: 1}},
     axisTick: {show: true, inside: true, length: 14, customValues: xTicks, lineStyle: {color: axisCol}},
     axisLabel: {show: false}, splitLine: {show: false}}
  ],
  yAxis: [
    {type: 'value', min: yMin, max: yMax, position: 'left',
     axisLine: {show: true, onZero: false, lineStyle: {color: axisCol, width: 1}},
     axisTick: {show: true, inside: true, length: 14, customValues: yTicks, lineStyle: {color: axisCol}},
     axisLabel: Object.assign({show: true, margin: 7, customValues: [yMin].concat(yTicks),
       formatter: v => (Math.abs(v - yMin) < 1e-6 ? yBottomLabel : String(v))}, labelStyle),
     splitLine: {show: false}},
    {type: 'value', min: yMin, max: yMax, position: 'right',
     axisLine: {show: true, onZero: false, lineStyle: {color: axisCol, width: 1}},
     axisTick: {show: true, inside: true, length: 14, customValues: yTicks, lineStyle: {color: axisCol}},
     axisLabel: {show: false}, splitLine: {show: false}}
  ],
  series: series
});
</script>
</body></html>
